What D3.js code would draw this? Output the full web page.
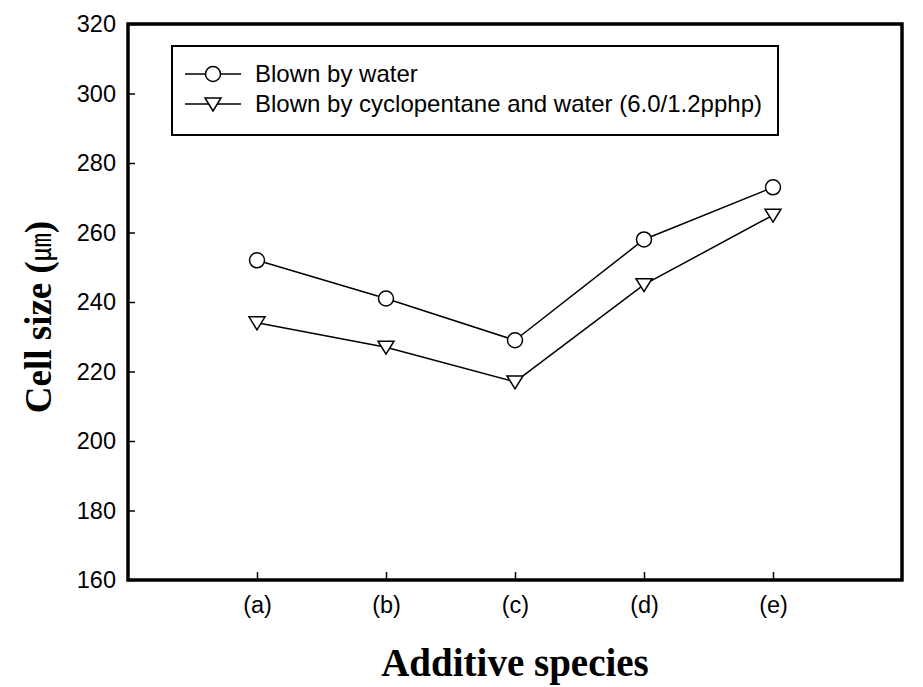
<!DOCTYPE html>
<html><head><meta charset="utf-8">
<script src="https://cdn.jsdelivr.net/npm/d3@7"></script>
<style>body{margin:0;background:#fff}svg{display:block}</style>
</head><body>
<script>
const categories = ["(a)", "(b)", "(c)", "(d)", "(e)"];
const waterValues = [252, 241, 229, 258, 273];
const cycloValues = [234, 227, 217, 245, 265];
const yTicks = [160, 180, 200, 220, 240, 260, 280, 300, 320];
const seriesNames = ["Blown by water", "Blown by cyclopentane and water (6.0/1.2pphp)"];

const W = 923, H = 687;
const L = 128, R = 902, T = 24, B = 580;
const svg = d3.select("body").append("svg").attr("width", W).attr("height", H);

const x = d3.scaleLinear().domain([0, categories.length + 1]).range([L, R]);
const y = d3.scaleLinear().domain([160, 320]).range([B, T]);
const sans = "Arial, 'Liberation Sans', sans-serif";

const yAxis = d3.axisLeft(y).tickValues(yTicks).tickSize(-7).tickPadding(12).tickFormat(d3.format("d"));
const gy = svg.append("g").attr("transform", `translate(${L},0)`).call(yAxis);
gy.select(".domain").remove();
gy.selectAll(".tick line").attr("stroke", "#000").attr("stroke-width", 1.5);
gy.selectAll(".tick text").attr("font-family", sans).attr("font-size", 23.5).attr("fill", "#000");

const xAxis = d3.axisBottom(x).tickValues(d3.range(1, categories.length + 1)).tickSize(-8).tickPadding(16)
  .tickFormat(d => categories[d - 1]);
const gx = svg.append("g").attr("transform", `translate(0,${B})`).call(xAxis);
gx.select(".domain").remove();
gx.selectAll(".tick line").attr("stroke", "#000").attr("stroke-width", 1.5);
gx.selectAll(".tick text").attr("font-family", sans).attr("font-size", 23.5).attr("fill", "#000");

svg.append("rect").attr("x", L).attr("y", T).attr("width", R - L).attr("height", B - T)
  .attr("fill", "none").attr("stroke", "#000").attr("stroke-width", 3.5);

const line = d3.line().x((d, i) => x(i + 1)).y(d => y(d));
const triPath = "M-8,-6L8,-6L0,7Z";

function drawSeries(vals, marker) {
  svg.append("path").datum(vals).attr("d", line).attr("fill", "none").attr("stroke", "#000").attr("stroke-width", 1.5);
  const g = svg.append("g").selectAll("g").data(vals).join("g")
    .attr("transform", (d, i) => `translate(${x(i + 1)},${y(d)})`);
  if (marker === "circle") g.append("circle").attr("r", 7.5).attr("fill", "#fff").attr("stroke", "#000").attr("stroke-width", 1.5);
  else g.append("path").attr("d", triPath).attr("fill", "#fff").attr("stroke", "#000").attr("stroke-width", 1.5);
}
drawSeries(waterValues, "circle");
drawSeries(cycloValues, "tri");

svg.append("rect").attr("x", 172).attr("y", 46).attr("width", 606).attr("height", 89)
  .attr("fill", "#fff").attr("stroke", "#000").attr("stroke-width", 2);
const legY = [74, 104];
seriesNames.forEach((name, i) => {
  svg.append("line").attr("x1", 185).attr("x2", 241).attr("y1", legY[i]).attr("y2", legY[i]).attr("stroke", "#000").attr("stroke-width", 1.5);
  if (i === 0) svg.append("circle").attr("cx", 213).attr("cy", legY[i]).attr("r", 7.5).attr("fill", "#fff").attr("stroke", "#000").attr("stroke-width", 1.5);
  else svg.append("path").attr("d", triPath).attr("transform", `translate(213,${legY[i]})`).attr("fill", "#fff").attr("stroke", "#000").attr("stroke-width", 1.5);
  svg.append("text").attr("x", 255).attr("y", legY[i]).attr("dy", "0.35em").text(name)
    .attr("font-family", sans).attr("font-size", 24).attr("fill", "#000");
});

svg.append("text").attr("x", 515).attr("y", 676).attr("text-anchor", "middle")
  .attr("font-family", "'Times New Roman', 'Liberation Serif', serif").attr("font-weight", "bold").attr("font-size", 39)
  .text("Additive species");
const yt = svg.append("text").attr("transform", "translate(51,317) rotate(-90)").attr("text-anchor", "middle")
  .attr("font-family", "'Times New Roman', 'Liberation Serif', serif").attr("font-weight", "bold").attr("font-size", 37);
yt.append("tspan").text("Cell size (");
yt.append("tspan").attr("font-family", "'Noto Sans CJK KR', serif").attr("font-weight", "normal").attr("font-size", 28).text("㎛");
yt.append("tspan").text(")");
</script>
</body></html>
